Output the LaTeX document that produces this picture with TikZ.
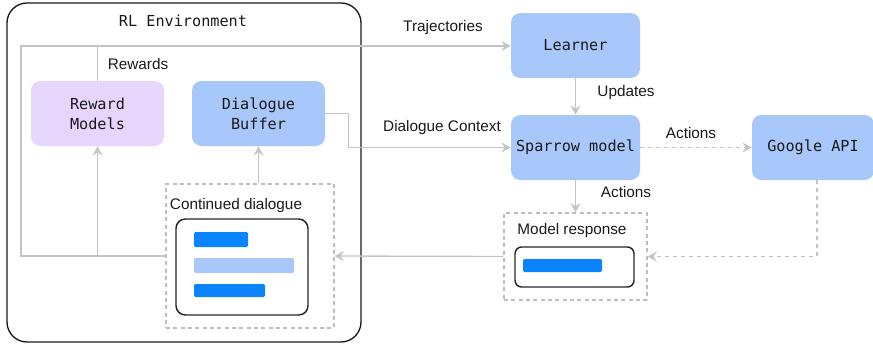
\documentclass[tikz,border=0pt]{standalone}
\usepackage{fontspec}
\setmainfont{Liberation Sans}
\newfontfamily\monof{DejaVu Sans Mono}
\usetikzlibrary{arrows.meta}
\definecolor{boxblue}{HTML}{A8C7FA}
\definecolor{boxpurple}{HTML}{E6D6FD}
\definecolor{barblue}{HTML}{0A84FF}
\definecolor{linegray}{HTML}{C4C4C4}
\definecolor{dashgray}{HTML}{BDBDBD}
\definecolor{txt}{HTML}{1A1A1A}
\tikzset{
  px/.style={x=0.75pt,y=-0.75pt},
  mbox/.style={rounded corners=7pt, inner sep=0pt, align=center, text=txt,
    font=\monof\fontsize{11.4}{15}\selectfont},
  lbl/.style={inner sep=0pt, text=txt, font=\fontsize{11.5}{13}\selectfont},
  conn/.style={draw=linegray, line width=1pt},
  arr/.style={conn, -{Stealth[length=7pt,width=7.5pt,inset=2.5pt]}},
  darr/.style={arr, dash pattern=on 3pt off 3pt},
  dbox/.style={draw=dashgray, line width=0.8pt, dash pattern=on 3pt off 2.5pt, inner sep=0pt},
  inbox/.style={draw=black!85, line width=1.1pt, rounded corners=7pt, inner sep=0pt},
  bar/.style={inner sep=0pt, rounded corners=1pt},
}
\begin{document}
\begin{tikzpicture}[px]
\useasboundingbox (0,0) rectangle (873,347);
% RL environment
\node[draw=black!90, line width=1pt, rounded corners=15pt, minimum width=354*0.75pt, minimum height=339*0.75pt, inner sep=0pt] (env) at (184,172.5) {};
\node[mbox] (envtitle) at (183,21) {RL Environment};
% boxes
\node[mbox, fill=boxpurple, minimum width=133*0.75pt, minimum height=65*0.75pt] (rm) at (97.5,113.5) {Reward\\Models};
\node[mbox, fill=boxblue, minimum width=133*0.75pt, minimum height=65*0.75pt] (db) at (258.5,113.5) {Dialogue\\Buffer};
\node[mbox, fill=boxblue, minimum width=129*0.75pt, minimum height=65*0.75pt] (learner) at (575.5,45.5) {Learner};
\node[mbox, fill=boxblue, minimum width=129*0.75pt, minimum height=65*0.75pt] (sparrow) at (575.5,147.5) {Sparrow model};
\node[mbox, fill=boxblue, minimum width=122*0.75pt, minimum height=65*0.75pt] (google) at (813,147.5) {Google API};
% continued dialogue
\node[dbox, minimum width=168*0.75pt, minimum height=144*0.75pt] (cd) at (250,256) {};
\node[lbl] (cdlabel) at (236,206) {Continued dialogue};
\node[inbox, minimum width=132*0.75pt, minimum height=96*0.75pt] (cdin) at (242,267) {};
\node[bar, fill=barblue, minimum width=54*0.75pt, minimum height=15*0.75pt] (bar1) at (221,239.5) {};
\node[bar, fill=boxblue, minimum width=100*0.75pt, minimum height=15*0.75pt] (bar2) at (244,265.5) {};
\node[bar, fill=barblue, minimum width=71*0.75pt, minimum height=13*0.75pt] (bar3) at (229.5,290.5) {};
% model response
\node[dbox, minimum width=143*0.75pt, minimum height=87*0.75pt] (mr) at (575.5,256.5) {};
\node[lbl] (mrlabel) at (572,231) {Model response};
\node[inbox, rounded corners=5pt, minimum width=119*0.75pt, minimum height=40*0.75pt] (mrin) at (574.5,267) {};
\node[bar, fill=barblue, minimum width=79*0.75pt, minimum height=13*0.75pt] (bar4) at (562.5,265.5) {};
% connectors
\coordinate (lt) at (21,46);
\draw[arr] (cd.west) -| (lt) -- (lt -| learner.west);
\draw[arr] (rm.south |- cd.west) -- (rm.south);
\draw[conn] (rm.north) -- (rm.north |- lt);
\draw[arr] (cd.north -| db.south) -- (db.south);
\draw[arr] (db.east) -- ++(23,0) |- (sparrow.west);
\draw[arr] (learner.south) -- (sparrow.north);
\draw[darr] (sparrow.east) -- (google.west);
\draw[arr] (sparrow.south) -- (mr.north);
\draw[darr] ([xshift=3pt]google.south) |- (mr.east);
\draw[arr] (mr.west) -- (cd.east);
% labels
\node[lbl] (lrewards) at (138,64) {Rewards};
\node[lbl] (ltraj) at (443,28) {Trajectories};
\node[lbl] (ldc) at (442,128) {Dialogue Context};
\node[lbl] (lupd) at (626,93) {Updates};
\node[lbl] (lact1) at (691,133) {Actions};
\node[lbl] (lact2) at (626,192) {Actions};
\end{tikzpicture}
\end{document}
